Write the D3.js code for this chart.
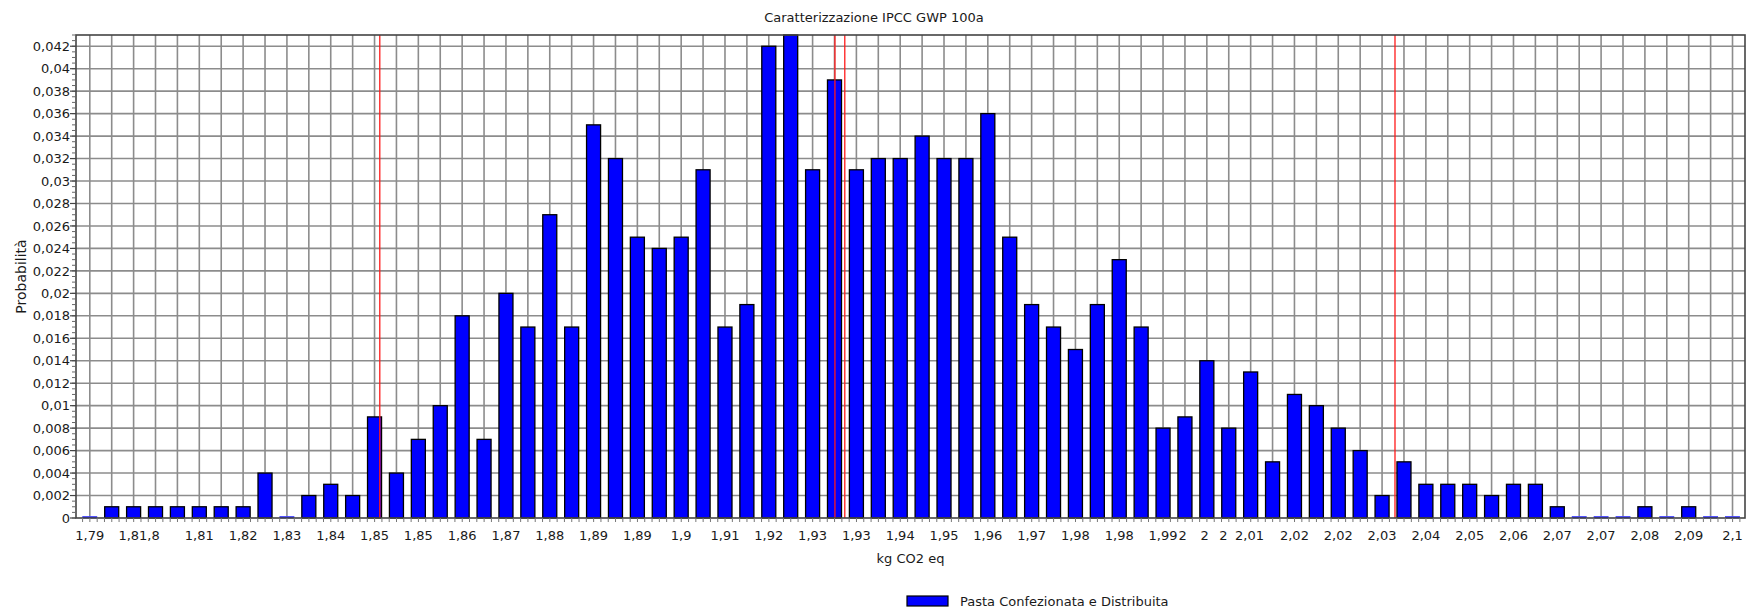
<!DOCTYPE html>
<html>
<head>
<meta charset="utf-8">
<script src="https://cdn.jsdelivr.net/npm/d3@7"></script>
<style>
body { margin: 0; background: #fff; }
text { font-family: "DejaVu Sans", sans-serif; font-size: 13px; fill: #1a1a1a; }
</style>
</head>
<body>
<svg id="chart"></svg>
<script>
// probability for each bin (76 bins)
var probabilities = [
    0, 0.001, 0.001, 0.001, 0.001, 0.001, 0.001, 0.001, 0.004, 0,
    0.002, 0.003, 0.002, 0.009, 0.004, 0.007, 0.010, 0.018, 0.007, 0.020,
    0.017, 0.027, 0.017, 0.035, 0.032, 0.025, 0.024, 0.025, 0.031, 0.017,
    0.019, 0.042, 0.043, 0.031, 0.039, 0.031, 0.032, 0.032, 0.034, 0.032,
    0.032, 0.036, 0.025, 0.019, 0.017, 0.015, 0.019, 0.023, 0.017, 0.008,
    0.009, 0.014, 0.008, 0.013, 0.005, 0.011, 0.010, 0.008, 0.006, 0.002,
    0.005, 0.003, 0.003, 0.003, 0.002, 0.003, 0.003, 0.001, 0, 0,
    0, 0.001, 0, 0.001, 0, 0
];

// x tick labels and where they sit, in bin units
var xTickPos = [0, 1.78, 2.72, 5, 7, 9, 11, 13, 15, 17, 19, 21, 23, 25, 27, 29, 31, 33, 35, 37,
    39, 41, 43, 45, 47, 49, 49.9, 50.9, 51.75, 52.95, 55, 57, 59, 61, 63, 65, 67, 69, 71, 73, 75];
var xTickLabels = ["1,79", "1,8", "1,8", "1,81", "1,82", "1,83", "1,84", "1,85", "1,85", "1,86",
    "1,87", "1,88", "1,89", "1,89", "1,9", "1,91", "1,92", "1,93", "1,93", "1,94",
    "1,95", "1,96", "1,97", "1,98", "1,98", "1,99", "2", "2", "2", "2,01",
    "2,02", "2,02", "2,03", "2,04", "2,05", "2,06", "2,07", "2,07", "2,08", "2,09", "2,1"];

var yTicks = [0, 0.002, 0.004, 0.006, 0.008, 0.01, 0.012, 0.014, 0.016, 0.018, 0.02,
    0.022, 0.024, 0.026, 0.028, 0.03, 0.032, 0.034, 0.036, 0.038, 0.04, 0.042];
var yTickLabels = ["0", "0,002", "0,004", "0,006", "0,008", "0,01", "0,012", "0,014", "0,016", "0,018", "0,02",
    "0,022", "0,024", "0,026", "0,028", "0,03", "0,032", "0,034", "0,036", "0,038", "0,04", "0,042"];

// red reference lines (bin units)
var markerPos = [13.24, 34.02, 34.47, 59.59];

var seriesName = "Pasta Confezionata e Distribuita";

function drawChart() {
    var svgWidth = 1748, svgHeight = 610;
    var pLeft = 76, pRight = 1745, pTop = 35, pBottom = 518;

    var svg = d3.select("#chart").attr("width", svgWidth).attr("height", svgHeight);

    var x = d3.scaleLinear().domain([-0.63, probabilities.length - 1 + 0.57]).range([pLeft, pRight]);
    var y = d3.scaleLinear().domain([0, 0.043]).range([pBottom, pTop]);
    var step = x(1) - x(0);
    var barW = step * 0.64;

    // title
    svg.append("text")
        .attr("x", 874)
        .attr("y", 22)
        .attr("text-anchor", "middle")
        .text("Caratterizzazione IPCC GWP 100a");

    // grid
    var grid = svg.append("g").attr("stroke", "#8c8c8c").attr("stroke-width", 1.6);
    grid.selectAll(".hg").data(yTicks.slice(1)).enter().append("line")
        .attr("x1", pLeft).attr("x2", pRight)
        .attr("y1", function (d) { return y(d); })
        .attr("y2", function (d) { return y(d); });
    grid.selectAll(".vg").data(probabilities).enter().append("line")
        .attr("y1", pTop).attr("y2", pBottom)
        .attr("x1", function (d, i) { return x(i); })
        .attr("x2", function (d, i) { return x(i); });

    // bars (empty bins still show a thin blue sliver on the axis)
    svg.selectAll(".bar")
        .data(probabilities)
        .enter().append("rect")
        .attr("class", "bar")
        .attr("x", function (d, i) { return x(i) - barW / 2; })
        .attr("width", barW)
        .attr("y", function (d) { return d === 0 ? pBottom - 1.5 : y(d); })
        .attr("height", function (d) { return d === 0 ? 1.5 : pBottom - y(d); })
        .attr("fill", "#0000ff")
        .attr("stroke", function (d) { return d === 0 ? "#4a4aff" : "#000"; })
        .attr("stroke-width", function (d) { return d === 0 ? 0.8 : 1.3; });

    // red lines
    svg.selectAll(".marker")
        .data(markerPos)
        .enter().append("line")
        .attr("x1", function (d) { return x(d); })
        .attr("x2", function (d) { return x(d); })
        .attr("y1", pTop).attr("y2", pBottom)
        .attr("stroke", "#ff1a1a")
        .attr("stroke-width", 1.3);

    // frame
    svg.append("rect")
        .attr("x", pLeft).attr("y", pTop)
        .attr("width", pRight - pLeft).attr("height", pBottom - pTop)
        .attr("fill", "none").attr("stroke", "#444").attr("stroke-width", 1.6);

    // y axis ticks
    var minorY = d3.range(0, 0.0431, 0.0005);
    svg.selectAll(".ymt").data(minorY).enter().append("line")
        .attr("x1", pLeft - 4).attr("x2", pLeft)
        .attr("y1", function (d) { return y(d); })
        .attr("y2", function (d) { return y(d); })
        .attr("stroke", "#666").attr("stroke-width", 1);
    svg.selectAll(".yt").data(yTicks).enter().append("line")
        .attr("x1", pLeft - 6).attr("x2", pLeft)
        .attr("y1", function (d) { return y(d); })
        .attr("y2", function (d) { return y(d); })
        .attr("stroke", "#444").attr("stroke-width", 1.2);
    svg.selectAll(".ylab").data(yTicks).enter().append("text")
        .attr("x", pLeft - 6)
        .attr("y", function (d) { return y(d); })
        .attr("dy", "0.36em")
        .attr("text-anchor", "end")
        .text(function (d, i) { return yTickLabels[i]; });

    // x axis ticks
    var minorX = d3.range(-0.33, probabilities.length - 0.4, 1 / 3);
    svg.selectAll(".xmt").data(minorX).enter().append("line")
        .attr("x1", function (d) { return x(d); })
        .attr("x2", function (d) { return x(d); })
        .attr("y1", pBottom).attr("y2", pBottom + 4)
        .attr("stroke", "#777").attr("stroke-width", 1);
    svg.selectAll(".xlab").data(xTickPos).enter().append("text")
        .attr("x", function (d) { return x(d); })
        .attr("y", 540)
        .attr("text-anchor", "middle")
        .text(function (d, i) { return xTickLabels[i]; });

    // axis titles
    svg.append("text")
        .attr("x", (pLeft + pRight) / 2)
        .attr("y", 563)
        .attr("text-anchor", "middle")
        .text("kg CO2 eq");
    svg.append("text")
        .attr("transform", "translate(26," + ((pTop + pBottom) / 2) + ") rotate(-90)")
        .attr("text-anchor", "middle")
        .style("font-size", "14px")
        .text("Probabilità");

    // legend
    svg.append("rect")
        .attr("x", 907).attr("y", 596)
        .attr("width", 41).attr("height", 10)
        .attr("fill", "#0000ff").attr("stroke", "#000").attr("stroke-width", 1.2);
    svg.append("text")
        .attr("x", 960).attr("y", 606)
        .text(seriesName);
}

drawChart();
</script>
</body>
</html>
